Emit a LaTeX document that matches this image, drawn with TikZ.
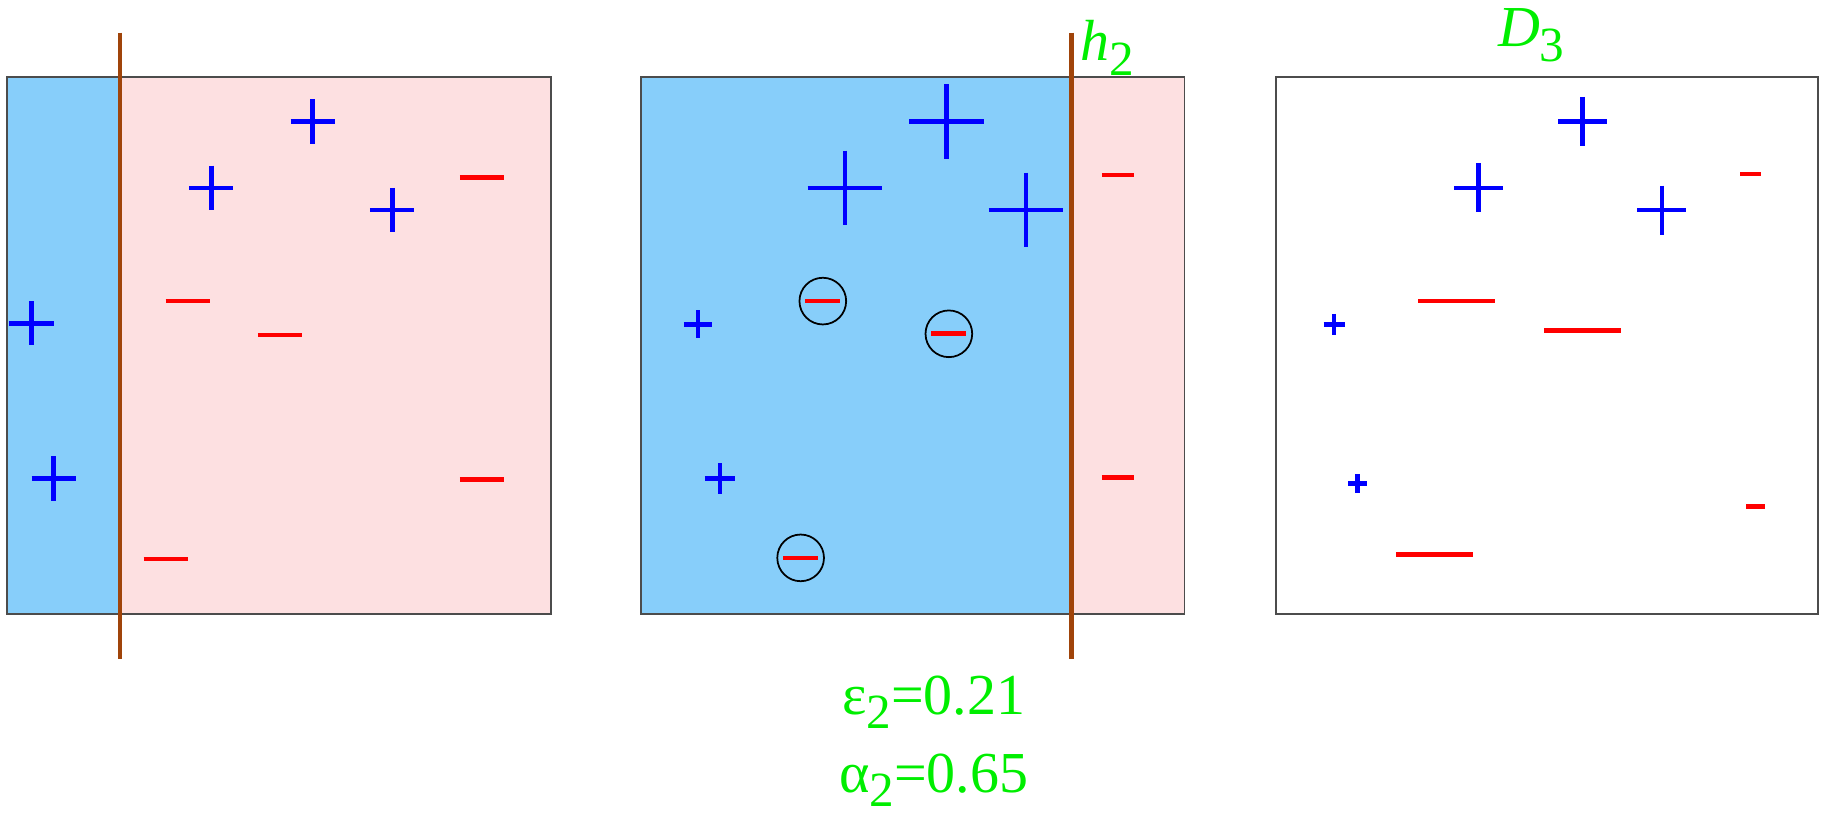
\documentclass[tikz,border=0pt]{standalone}
\usepackage{fontspec}
\setmainfont{Liberation Serif}
\newfontfamily\timesf{Liberation Serif}
\definecolor{skyb}{RGB}{135,206,250}
\definecolor{pinkb}{RGB}{253,224,225}
\definecolor{brownl}{RGB}{160,68,10}
\definecolor{grn}{RGB}{0,238,0}
\definecolor{blu}{RGB}{0,0,255}
\definecolor{rd}{RGB}{255,0,0}
\newcommand\mysub[1]{\raisebox{-0.25em}{\fontsize{14}{14}\selectfont #1}}
\newcommand\pmark[3]{\draw[plusst] (#1-#3,#2)--(#1+#3,#2) (#1,#2-#3)--(#1,#2+#3);}
\newcommand\mmark[3]{\draw[minusst] (#1-#3,#2)--(#1+#3,#2);}
\begin{document}
\begin{tikzpicture}[x=0.011671cm,y=-0.011671cm,
  plusst/.style={blu,line width=1.35pt},
  minusst/.style={rd,line width=1.35pt},
  frame/.style={draw=black!70,line width=0.5pt},
  hline/.style={brownl,line width=1.3pt},
  lbl/.style={text=grn,font=\timesf\fontsize{16.5}{18}\selectfont,inner sep=0pt},
  ring/.style={draw=black,line width=0.5pt}]
\useasboundingbox (0,0) rectangle (1568,704);
% panel 1
\fill[skyb] (6,66) rectangle (103,526);
\fill[pinkb] (103,66) rectangle (472,526);
\draw[frame] (6,66) rectangle (472,526);
\draw[hline] (103,28) -- (103,565);
\pmark{268}{104}{19}
\pmark{181}{161}{19}
\pmark{336}{180}{19}
\pmark{27}{277}{19}
\pmark{46}{410}{19}
\mmark{413}{152}{19}
\mmark{161}{258}{19}
\mmark{240}{287}{19}
\mmark{413}{411}{19}
\mmark{142}{479}{19}
% panel 2
\fill[skyb] (549,66) rectangle (918,526);
\fill[pinkb] (918,66) rectangle (1015,526);
\draw[frame] (549,66) rectangle (1015,526);
\draw[hline] (918,28) -- (918,565);
\pmark{811}{104}{32}
\pmark{724}{161}{32}
\pmark{879}{180}{32}
\pmark{598}{278}{12}
\pmark{617}{410}{13}
\mmark{958}{150}{14}
\mmark{958}{409}{14}
\draw[ring] (705,258) circle (20);
\draw[ring] (813,286) circle (20);
\draw[ring] (686,478) circle (20);
\mmark{705}{258}{15}
\mmark{813}{286}{15}
\mmark{686}{478}{15}
\node[lbl,anchor=base west] (h2) at (925,52) {\textit{h}\mysub{2}};
% panel 3
\draw[frame] (1093,66) rectangle (1558,526);
\pmark{1356}{104}{21}
\pmark{1267}{161}{21}
\pmark{1424}{180}{21}
\pmark{1143}{278}{9}
\pmark{1163}{414}{8}
\mmark{1500}{149}{9}
\mmark{1248}{258}{33}
\mmark{1356}{283}{33}
\mmark{1504}{434}{8}
\mmark{1229}{475}{33}
\node[lbl,anchor=base west] (d3) at (1283,40) {\textit{D}\mysub{3}};
% values
\node[lbl,anchor=base] (eps) at (800,612) {ε\mysub{2}=0.21};
\node[lbl,anchor=base] (alp) at (800,679) {α\mysub{2}=0.65};
\end{tikzpicture}
\end{document}
